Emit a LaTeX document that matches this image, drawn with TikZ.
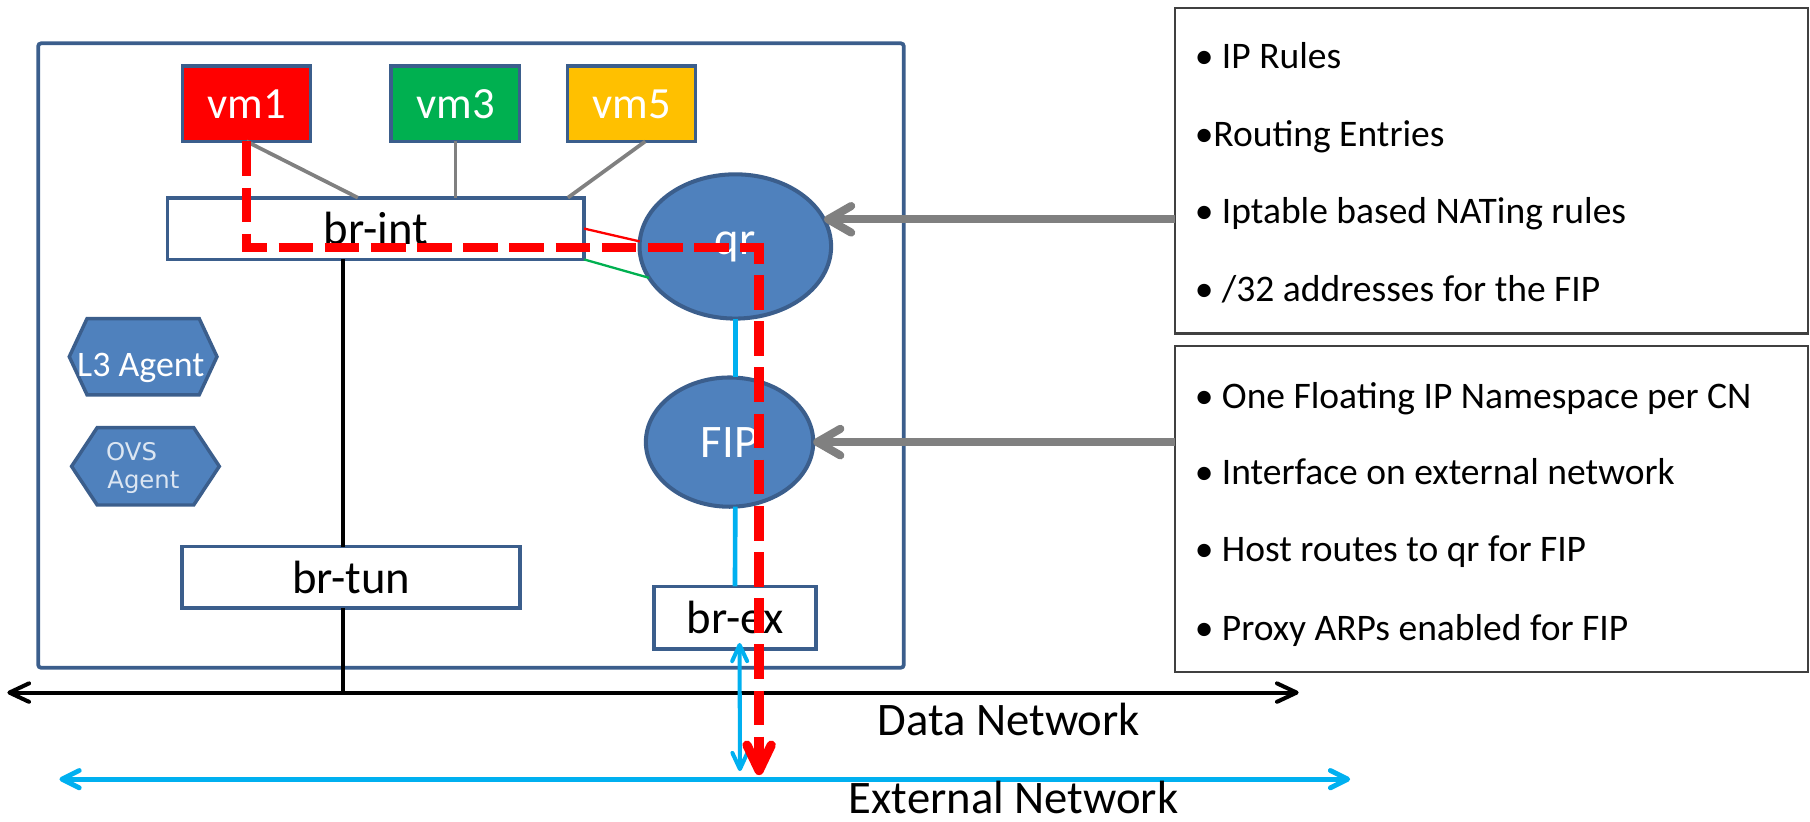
\documentclass[tikz,border=0pt]{standalone}
\usepackage{fontspec}
\setmainfont{Carlito}
\newfontfamily\agentfont{DejaVu Sans}
\usetikzlibrary{arrows.meta,shapes.geometric,shapes.symbols}

\definecolor{nodeblue}{HTML}{4F81BD}
\definecolor{edgeblue}{HTML}{3B5E8C}
\definecolor{vmred}{HTML}{FF0000}
\definecolor{vmgreen}{HTML}{00B050}
\definecolor{vmamber}{HTML}{FFC000}
\definecolor{netcyan}{HTML}{00B0F0}
\definecolor{linkgray}{HTML}{808080}
\definecolor{agenttext}{HTML}{DCE6F2}

\begin{document}
\begin{tikzpicture}[x=0.02cm,y=-0.02cm,
  every node/.style={inner sep=0pt, outer sep=0pt},
  hostbox/.style={draw=edgeblue, line width=0.065cm, rounded corners=0.05cm,
    minimum width=15cm, minimum height=10.82cm},
  vmbox/.style={draw=edgeblue, line width=0.065cm, minimum width=2.22cm,
    minimum height=1.3cm, text=white, font=\fontsize{22}{26}\selectfont},
  bridge/.style={draw=edgeblue, fill=white, line width=0.065cm,
    font=\fontsize{23}{27}\selectfont},
  ns/.style={ellipse, draw=edgeblue, fill=nodeblue, line width=0.07cm,
    text=white, font=\fontsize{23}{27}\selectfont},
  agent/.style={signal, signal to=east and west, draw=edgeblue,
    fill=nodeblue, line width=0.06cm},
  infobox/.style={draw=black!75, line width=0.04cm, minimum width=10.96cm,
    minimum height=5.64cm},
  infoline/.style={anchor=base west, font=\fontsize{18.5}{22}\selectfont},
  netlabel/.style={anchor=base, font=\fontsize{23}{27}\selectfont},
  vmlink/.style={draw=linkgray, line width=0.065cm},
  trunk/.style={draw=black, line width=0.07cm},
  cyanlink/.style={draw=netcyan, line width=0.08cm},
  datanet/.style={draw=black, line width=0.07cm, line cap=round,
    >={Straight Barb[length=0.34cm,width=0.32cm,round]}, <->},
  extnet/.style={draw=netcyan, line width=0.085cm, line cap=round,
    >={Straight Barb[length=0.3cm,width=0.3cm,round]}, <->},
  uplink/.style={draw=netcyan, line width=0.07cm, line cap=round,
    >={Straight Barb[length=0.28cm,width=0.26cm,round]}, <->},
  callout/.style={draw=linkgray, line width=0.14cm,
    -{Straight Barb[length=0.4cm,width=0.46cm,round]}},
  flowpath/.style={draw=vmred, line width=0.16cm,
    dash pattern=on 0.6cm off 0.2cm,
    -{Straight Barb[length=0.44cm,width=0.42cm,round]}}
]
\useasboundingbox (0,0) rectangle (1568,712);

% compute node frame
\node[hostbox] (host) at (408,308) {};

% virtual machines
\node[vmbox, fill=vmred]   (vm1) at (213.5,90) {vm1};
\node[vmbox, fill=vmgreen] (vm3) at (394.5,90) {vm3};
\node[vmbox, fill=vmamber] (vm5) at (547,90)   {vm5};

% bridges
\node[bridge, minimum width=7.22cm, minimum height=1.07cm] (brint) at (325.5,198) {br-int};
\node[bridge, minimum width=5.86cm, minimum height=1.06cm] (brtun) at (304.3,500) {br-tun};
\node[bridge, minimum width=2.8cm,  minimum height=1.08cm] (brex)  at (636.7,535) {br-ex};

% namespaces
\node[ns, minimum width=3.32cm, minimum height=2.5cm]  (qr)  at (637,213.5) {qr};
\node[ns, minimum width=2.9cm,  minimum height=2.24cm] (fip) at (632,383)   {FIP};

% agents
\node[agent, minimum width=2.56cm, minimum height=1.32cm, signal pointer angle=130] (l3) at (124,309) {};
\node[anchor=base, text=white, font=\fontsize{17.7}{20}\selectfont] (l3txt) at (122,326) {L3 Agent};
\node[agent, minimum width=2.56cm, minimum height=1.34cm, signal pointer angle=113] (ovs) at (126,404) {};
\node[anchor=base west, text=agenttext, font=\agentfont\fontsize{12}{14}\selectfont] (ovstxt1) at (92,398.5) {OVS};
\node[anchor=base west, text=agenttext, font=\agentfont\fontsize{12}{14}\selectfont] (ovstxt2) at (93,423) {Agent};

% information boxes
\node[infobox] (box1) at (1292,148) {};
\node[infobox] (box2) at (1292,441) {};
\node[infoline] (t11) at (1035,59.2)  {• IP Rules};
\node[infoline] (t12) at (1035,127)   {•Routing Entries};
\node[infoline] (t13) at (1035,194)   {• Iptable based NATing rules};
\node[infoline] (t14) at (1035,261)   {• /32 addresses for the FIP};
\node[infoline] (t21) at (1035,353.7) {• One Floating IP Namespace per CN};
\node[infoline] (t22) at (1035,420)   {• Interface on external network};
\node[infoline] (t23) at (1035,486.6) {• Host routes to qr for FIP};
\node[infoline] (t24) at (1035,555)   {• Proxy ARPs enabled for FIP};

% network end points
\coordinate (dataL) at (6.4,600);
\coordinate (dataR) at (1125,600);
\coordinate (extL) at (51.5,675);
\coordinate (extR) at (1169.6,675);
\coordinate (dtap) at (297,600);
\coordinate (exttap) at (641,668);
\coordinate (redturn) at (657.6,214.6);
\coordinate (redend) at (657.6,671.5);

% networks
\draw[datanet] (dataL) -- (dataR);
\draw[extnet] (extL) -- (extR);
\node[netlabel] (dnlabel) at (874,636.8) {Data Network};
\node[netlabel] (enlabel) at (878,705) {External Network};

% vm ports on br-int
\draw[vmlink] (vm1.south) -- ([xshift=-0.31cm]brint.north);
\draw[vmlink] (vm3.south) -- (vm3.south |- brint.north);
\draw[vmlink] ([xshift=0.24cm]vm5.south) -- ([xshift=3.33cm]brint.north);

% bridge trunks
\draw[trunk] (dtap |- brint.south) -- (dtap |- brtun.north);
\draw[trunk] (dtap |- brtun.south) -- (dtap);

% router interfaces
\draw[draw=vmred, line width=0.04cm] (brint.east) -- (qr.177);
\draw[draw=vmgreen, line width=0.04cm] (brint.south east) -- (qr.200);
\draw[cyanlink] (qr.south) -- (qr.south |- fip.north);
\draw[cyanlink] (qr.south |- fip.south) -- (brex.north);
\draw[uplink] ([xshift=0.08cm,yshift=0.1cm]brex.south) -- (exttap);

% callouts
\draw[callout] (box1.west |- qr.17) -- (qr.17);
\draw[callout] (box2.west |- fip.east) -- (fip.east);

% traffic path
\draw[flowpath] (vm1.south) |- (redturn) -- (redend);
\end{tikzpicture}
\end{document}
